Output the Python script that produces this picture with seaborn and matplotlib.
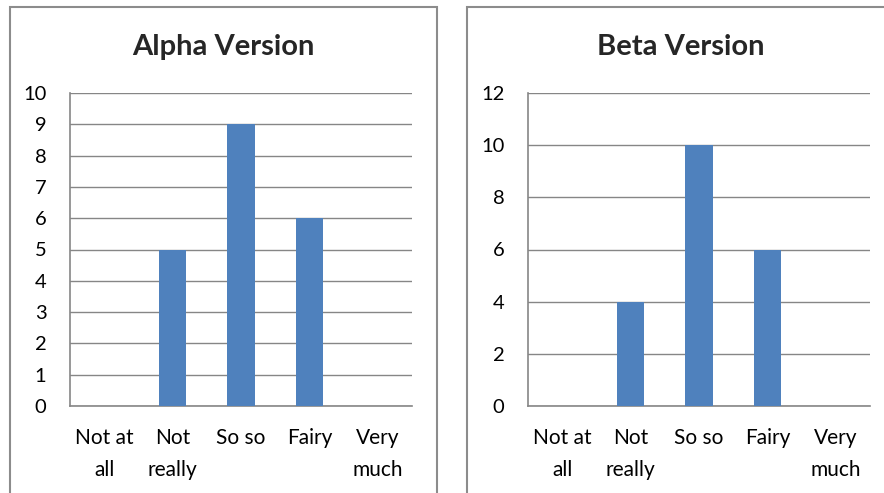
import numpy as np
import pandas as pd
import seaborn as sns
import matplotlib
matplotlib.use("Agg")
from matplotlib import pyplot as plt
from matplotlib.patches import Rectangle

categories = ["Not at\nall", "Not\nreally", "So so", "Fairy", "Very\nmuch"]
alpha_counts = [0, 5, 9, 6, 0]
beta_counts = [0, 4, 10, 6, 0]
titles = ["Alpha Version", "Beta Version"]

sns.set_style("white")
plt.rcParams["font.family"] = ["Lato", "DejaVu Sans"]

bar_color = "#4F81BD"
grid_color = "#868686"

fig = plt.figure(figsize=(8.84, 4.93), dpi=100)

# panel frames like an office chart
fig.patches.append(Rectangle((10 / 884, -0.1), 427 / 884, 1.1 - 7 / 493,
                             transform=fig.transFigure, fill=False,
                             edgecolor="#8c8c8c", linewidth=1.5))
fig.patches.append(Rectangle((467 / 884, -0.1), 0.6, 1.1 - 7 / 493,
                             transform=fig.transFigure, fill=False,
                             edgecolor="#8c8c8c", linewidth=1.5))

panels = [
    (alpha_counts, 70, 10, np.arange(0, 11, 1), 223.5),
    (beta_counts, 528, 12, np.arange(0, 13, 2), 681),
]

for (counts, x0, ymax, yticks, tx), title in zip(panels, titles):
    ax = fig.add_axes([x0 / 884, (493 - 406) / 493, 342 / 884, 313 / 493])
    df = pd.DataFrame({"answer": categories, "count": counts})
    sns.barplot(data=df, x="answer", y="count", color=bar_color,
                saturation=1, width=0.4, linewidth=0, ax=ax, zorder=3)
    ax.set_ylim(0, ymax)
    ax.set_xlim(-0.5, 4.5)
    ax.set_yticks(yticks)
    ax.yaxis.grid(True, color=grid_color, linewidth=1.0, zorder=0)
    ax.set_axisbelow(True)
    for side in ["top", "right"]:
        ax.spines[side].set_visible(False)
    ax.spines["left"].set_color(grid_color)
    ax.spines["bottom"].set_color(grid_color)
    ax.spines["left"].set_linewidth(1.2)
    ax.spines["bottom"].set_linewidth(1.2)
    ax.set_xlabel("")
    ax.set_ylabel("")
    # ticks at category boundaries
    ax.set_xticks(np.arange(-0.5, 5, 1), minor=True)
    ax.tick_params(axis="x", which="minor", length=6, color=grid_color,
                   width=1.2, direction="out")
    ax.tick_params(axis="x", which="major", length=0, pad=16,
                   labelsize=15, colors="black")
    ax.tick_params(axis="y", length=7, width=1.0, direction="out",
                   pad=10, labelsize=14.5, colors="black")
    ax.tick_params(axis="y", color=grid_color)
    for lab in ax.get_xticklabels():
        lab.set_linespacing(1.75)
        lab.set_verticalalignment("top")
    fig.text(tx / 884, 1 - 47 / 493, title, ha="center", va="center",
             fontsize=21, fontweight="bold")

fig.savefig("out.png", dpi=100)
